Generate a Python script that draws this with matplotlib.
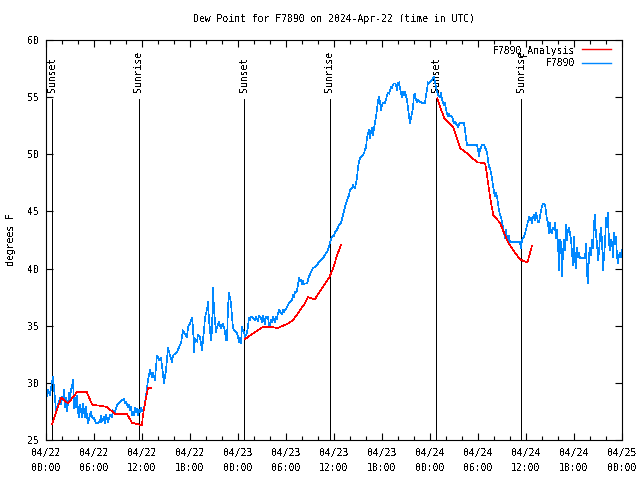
import matplotlib
matplotlib.use("Agg")
import matplotlib.pyplot as plt
from matplotlib.ticker import MultipleLocator

plt.rcParams['font.family'] = ['DejaVu Sans Mono']
plt.rcParams['text.antialiased'] = False

title = "Dew Point for F7890 on 2024-Apr-22 (time in UTC)"
ylabel = "degrees F"

# x tick labels (every 6 hours from 2024-04-22 00:00 UTC)
tick_hours = list(range(0, 73, 6))
tick_labels = ["04/22\n00:00", "04/22\n06:00", "04/22\n12:00", "04/22\n18:00",
               "04/23\n00:00", "04/23\n06:00", "04/23\n12:00", "04/23\n18:00",
               "04/24\n00:00", "04/24\n06:00", "04/24\n12:00", "04/24\n18:00",
               "04/25\n00:00"]

# Sunset / sunrise markers (hours since 04/22 00:00)
sun_events = ["Sunset", "Sunrise", "Sunset", "Sunrise", "Sunset", "Sunrise"]
sun_hours = [0.75, 11.6, 24.75, 35.45, 48.75, 59.4]

# F7890 observations (hour, deg F)
f7890_obs = [
    (0.0, 28.8), (0.125, 28.8), (0.25, 29.4), (0.5, 28.9), (0.75, 30.1), (0.875, 30.5),
    (1.0, 29.6), (1.25, 27.6), (1.5, 28.1), (1.75, 28.7), (1.875, 28.1), (2.0, 28.8),
    (2.125, 28.5), (2.25, 29.4), (2.375, 27.9), (2.5, 28.7), (2.625, 27.5), (2.75, 28.2),
    (2.875, 29.1), (3.0, 28.5), (3.125, 29.4), (3.25, 29.6), (3.375, 30.3), (3.5, 27.8),
    (3.625, 28.7), (3.75, 27.9), (3.875, 28.9), (4.0, 27.5), (4.125, 27.0), (4.25, 28.1),
    (4.5, 27.0), (4.625, 28.2), (4.75, 27.5), (4.875, 27.0), (5.0, 27.9), (5.125, 27.0),
    (5.25, 26.5), (5.5, 27.2), (5.625, 27.5), (5.75, 27.0), (6.0, 26.9), (6.25, 26.5),
    (6.5, 26.5), (6.75, 26.6), (6.875, 27.1), (7.0, 26.6), (7.25, 27.0), (7.375, 26.5),
    (7.5, 27.2), (7.75, 26.6), (8.0, 27.2), (8.25, 27.0), (8.375, 27.6), (8.625, 27.4),
    (8.75, 27.8), (9.0, 28.2), (9.25, 28.3), (9.5, 28.5), (9.75, 28.6), (9.875, 28.2),
    (10.0, 28.3), (10.25, 27.9), (10.375, 28.1), (10.5, 27.6), (10.625, 27.9), (10.75, 27.2),
    (10.875, 27.5), (11.0, 27.2), (11.125, 27.8), (11.25, 27.4), (11.375, 27.7), (11.5, 27.2),
    (11.625, 27.6), (11.75, 27.4), (11.875, 27.8), (12.0, 27.5), (12.125, 27.6), (12.25, 27.8),
    (12.375, 28.2), (12.625, 29.6), (12.75, 30.25), (13.0, 31.1), (13.25, 30.5), (13.375, 30.9),
    (13.625, 30.25), (13.75, 31.4), (13.875, 32.4), (14.125, 32.0), (14.375, 32.2), (14.625, 30.7),
    (14.75, 30.0), (15.0, 31.1), (15.25, 33.1), (15.5, 32.4), (15.75, 31.8), (15.875, 32.4),
    (16.375, 32.7), (16.625, 33.1), (16.875, 33.5), (17.0, 34.0), (17.125, 34.6), (17.25, 34.4),
    (17.625, 34.0), (17.75, 34.9), (18.0, 35.2), (18.25, 35.7), (18.375, 34.9), (18.5, 32.7),
    (18.625, 33.9), (18.875, 33.6), (19.0, 34.2), (19.25, 34.0), (19.5, 32.9), (19.75, 34.6),
    (19.875, 35.7), (20.125, 36.4), (20.25, 37.1), (20.375, 35.5), (20.625, 33.75), (20.75, 34.6),
    (20.875, 38.3), (21.0, 36.4), (21.25, 34.4), (21.375, 34.9), (21.625, 35.3), (21.875, 34.8),
    (22.125, 35.2), (22.375, 34.5), (22.5, 33.75), (22.625, 33.75), (22.75, 36.6), (22.875, 37.9),
    (23.125, 37.0), (23.25, 35.8), (23.375, 34.8), (23.625, 34.5), (23.875, 34.4), (24.0, 34.0),
    (24.125, 33.6), (24.25, 33.9), (24.375, 33.5), (24.5, 34.9), (24.625, 34.6), (24.75, 34.45),
    (24.875, 33.9), (25.0, 34.2), (25.125, 34.4), (25.25, 34.9), (25.375, 35.7), (25.5, 35.5),
    (25.625, 35.8), (25.875, 35.7), (26.125, 35.5), (26.25, 35.8), (26.5, 35.4), (26.625, 35.9),
    (26.875, 35.7), (27.0, 35.3), (27.125, 35.9), (27.25, 35.5), (27.375, 35.15), (27.5, 35.8),
    (27.75, 35.8), (27.875, 35.1), (28.0, 34.9), (28.125, 35.5), (28.25, 35.3), (28.375, 35.8),
    (28.5, 35.5), (28.625, 35.3), (28.75, 35.8), (28.875, 35.6), (29.0, 36.1), (29.125, 36.4),
    (29.375, 36.1), (29.5, 36.0), (29.625, 36.4), (29.75, 36.2), (30.0, 36.5), (30.125, 36.6),
    (30.375, 37.0), (30.5, 37.1), (30.75, 37.25), (30.875, 37.7), (31.0, 37.5), (31.125, 37.95),
    (31.25, 37.9), (31.375, 38.1), (31.5, 38.6), (31.625, 39.2), (31.75, 38.9), (31.875, 39.0),
    (32.0, 38.65), (32.125, 38.9), (32.25, 38.65), (32.375, 38.7), (32.625, 38.7), (32.875, 39.3),
    (33.125, 39.7), (33.375, 40.05), (33.625, 40.15), (33.875, 40.3), (34.125, 40.6), (34.375, 40.75),
    (34.625, 40.9), (34.875, 41.2), (35.125, 41.45), (35.375, 41.9), (35.5, 42.3), (35.625, 42.5),
    (35.75, 42.8), (35.875, 42.9), (36.0, 42.85), (36.125, 43.2), (36.375, 43.4), (36.625, 43.8),
    (36.875, 44.0), (37.125, 44.7), (37.375, 45.4), (37.625, 46.0), (37.875, 46.4), (38.0, 46.9),
    (38.25, 47.05), (38.375, 47.3), (38.625, 47.05), (38.75, 47.5), (38.875, 47.9), (39.0, 48.9),
    (39.25, 49.7), (39.5, 49.85), (39.75, 50.1), (39.875, 50.4), (40.0, 50.6), (40.125, 51.5),
    (40.375, 52.1), (40.5, 51.4), (40.625, 51.95), (40.75, 52.3), (40.875, 51.7), (41.0, 52.3),
    (41.25, 53.3), (41.375, 53.9), (41.5, 54.75), (41.625, 55.0), (41.75, 54.6), (41.875, 53.9),
    (42.0, 54.3), (42.125, 54.5), (42.375, 54.5), (42.5, 54.75), (42.625, 55.2), (42.75, 55.4),
    (42.875, 55.3), (43.0, 55.6), (43.125, 55.9), (43.25, 55.8), (43.375, 56.1), (43.5, 56.2),
    (43.625, 56.2), (43.75, 56.1), (43.875, 55.6), (44.0, 56.2), (44.125, 56.3), (44.25, 55.8),
    (44.375, 55.4), (44.5, 55.0), (44.625, 55.45), (44.75, 55.2), (44.875, 55.45), (45.0, 55.1),
    (45.125, 54.75), (45.25, 54.05), (45.375, 53.3), (45.5, 52.7), (45.625, 53.2), (45.75, 53.6),
    (45.875, 54.1), (46.0, 55.2), (46.125, 55.3), (46.25, 54.75), (46.375, 54.6), (46.5, 54.75),
    (46.75, 54.6), (47.0, 54.5), (47.375, 54.5), (47.5, 55.2), (47.625, 55.6), (47.75, 56.3),
    (47.875, 56.2), (48.0, 56.3), (48.25, 56.5), (48.375, 56.7), (48.5, 56.8), (48.625, 56.3),
    (48.75, 55.9), (48.875, 55.45), (49.0, 55.2), (49.25, 55.0), (49.375, 55.4), (49.5, 54.75),
    (49.625, 54.5), (49.75, 54.3), (49.875, 54.5), (50.0, 53.9), (50.125, 53.6), (50.25, 53.3),
    (50.375, 53.5), (50.5, 53.35), (50.625, 53.4), (50.75, 53.3), (50.875, 53.0), (51.0, 52.7),
    (51.125, 52.8), (51.25, 52.7), (51.5, 52.4), (51.625, 52.6), (51.75, 52.75), (52.25, 52.75),
    (52.375, 52.1), (52.5, 51.5), (52.625, 50.8), (53.875, 50.8), (54.0, 50.4), (54.125, 49.8),
    (54.25, 50.4), (54.375, 50.6), (54.5, 50.8), (54.75, 50.8), (54.875, 50.6), (55.125, 50.2),
    (55.25, 49.5), (55.375, 48.9), (55.5, 48.8), (55.625, 48.4), (55.75, 47.9), (55.875, 47.3),
    (56.0, 46.7), (56.125, 46.3), (56.25, 46.6), (56.375, 46.3), (56.5, 45.7), (56.625, 45.1),
    (56.75, 44.7), (56.875, 44.5), (57.0, 44.1), (57.125, 43.6), (57.25, 43.1), (57.375, 42.7),
    (57.5, 43.4), (57.625, 42.7), (57.75, 42.3), (57.875, 42.9), (58.0, 42.3), (59.25, 42.3),
    (59.375, 41.8), (59.5, 42.5), (59.75, 42.8), (60.0, 43.4), (60.125, 43.8), (60.25, 44.1),
    (60.375, 44.5), (60.5, 44.25), (60.625, 44.4), (60.75, 44.0), (60.875, 44.5), (61.0, 44.7),
    (61.125, 44.25), (61.25, 44.9), (61.375, 44.5), (61.5, 44.1), (61.625, 44.1), (61.75, 44.5),
    (61.875, 45.1), (62.0, 45.4), (62.125, 45.65), (62.25, 45.7), (62.375, 45.6), (62.5, 44.9),
    (62.625, 44.25), (62.75, 44.0), (62.875, 43.1), (63.0, 44.0), (63.125, 43.2), (63.25, 43.1),
    (63.375, 43.55), (63.5, 43.4), (63.625, 44.0), (63.75, 42.7), (63.875, 43.4), (64.0, 42.2),
    (64.125, 39.9), (64.25, 42.5), (64.375, 42.3), (64.5, 39.3), (64.625, 41.45), (64.75, 42.5),
    (64.875, 41.6), (65.0, 43.8), (65.125, 42.5), (65.25, 43.4), (65.375, 43.55), (65.5, 43.1),
    (65.625, 42.5), (65.75, 41.4), (65.875, 40.3), (66.0, 42.8), (66.125, 40.75), (66.25, 40.05),
    (66.375, 41.8), (66.5, 41.0), (66.625, 41.4), (66.75, 40.9), (67.375, 40.9), (67.5, 42.2),
    (67.625, 39.6), (67.75, 38.7), (67.875, 41.2), (68.0, 41.8), (68.125, 41.2), (68.25, 42.5),
    (68.375, 41.8), (68.5, 44.0), (68.625, 44.7), (68.75, 42.9), (68.875, 42.2), (69.0, 40.75),
    (69.125, 41.4), (69.25, 42.8), (69.375, 43.6), (69.5, 42.5), (69.625, 39.9), (69.75, 41.0),
    (69.875, 42.2), (70.0, 44.4), (70.125, 43.6), (70.25, 44.9), (70.375, 42.2), (70.5, 41.6),
    (70.625, 42.5), (70.75, 42.3), (70.875, 41.0), (71.0, 43.1), (71.125, 42.1), (71.25, 42.8),
    (71.375, 41.0), (71.5, 40.5), (71.625, 41.2), (71.75, 41.4), (71.875, 41.0), (72.0, 41.6),
]

# F7890_Analysis, three separate runs (hour, deg F)
analysis_run1 = [(0.75, 26.4), (1.9, 28.7), (2.75, 28.2), (3.9, 29.2), (5.1, 29.2), (5.75, 28.1),
                 (7.6, 27.9), (8.6, 27.3), (10.1, 27.3), (10.75, 26.5), (12.0, 26.3), (12.1, 27.1),
                 (12.5, 28.7), (12.75, 29.55), (13.1, 29.55)]
analysis_run2 = [(24.9, 33.85), (27.1, 34.9), (28.0, 34.9), (29.0, 34.8), (30.25, 35.2), (30.9, 35.5),
                 (31.5, 36.1), (32.4, 37.0), (32.75, 37.5), (33.6, 37.3), (34.6, 38.4), (35.4, 39.2),
                 (35.9, 40.05), (36.4, 41.2), (36.9, 42.1)]
analysis_run3 = [(48.9, 54.9), (49.75, 53.2), (50.9, 52.4), (51.75, 50.55), (52.6, 50.1), (53.9, 49.3),
                 (54.9, 49.2), (55.1, 48.3), (55.5, 46.3), (55.9, 44.7), (56.75, 44.0), (57.1, 43.4),
                 (57.75, 42.3), (58.6, 41.4), (59.25, 40.8), (59.9, 40.6), (60.2, 40.6), (60.75, 42.0)]

BLUE = "#0088ff"
RED = "#ff0000"
LW = 0.72
DLW = 0.45

fig = plt.figure(figsize=(6.4, 4.8), dpi=100)
ax = fig.add_axes([46 / 640, 40 / 480, 576 / 640, 400 / 480])
ax.set_xlim(0, 72)
ax.set_ylim(25, 60)

# sunrise / sunset lines
for name, h in zip(sun_events, sun_hours):
    ax.plot([h, h], [25, 54.8], color="black", lw=LW, antialiased=False, zorder=1)
    ax.text(h, 55.45, name, rotation=90, ha="center", va="bottom", fontsize=7, zorder=1)

first = True
for run in (analysis_run1, analysis_run2, analysis_run3):
    hx, hv = zip(*run)
    ax.plot(hx, hv, color=RED, lw=DLW, antialiased=False, zorder=3,
            label="F7890_Analysis" if first else None)
    first = False

ox, ov = zip(*f7890_obs)
ax.plot(ox, ov, color=BLUE, lw=DLW, antialiased=False, zorder=2, label="F7890")

ax.set_xticks(tick_hours)
ax.set_xticklabels(tick_labels, fontsize=7, linespacing=1.6)
ax.xaxis.set_minor_locator(MultipleLocator(2))
ax.set_yticks(range(25, 61, 5))
ax.set_yticklabels([str(v) for v in range(25, 61, 5)], fontsize=7)
ax.tick_params(which="both", direction="in", top=True, right=True, width=0.8)
ax.tick_params(which="major", length=5)
ax.tick_params(which="minor", length=3)
ax.tick_params(axis="x", which="major", pad=6)
ax.tick_params(axis="y", which="major", pad=5)
for s in ax.spines.values():
    s.set_linewidth(0.8)

leg = ax.legend(loc="upper right", bbox_to_anchor=(1.0 - 4 / 576, 1.0 + 2 / 400), frameon=False,
                fontsize=7, markerfirst=False, handlelength=3.0, handletextpad=0.7,
                labelspacing=0.25, borderaxespad=0.3)
for line in leg.get_lines():
    line.set_linewidth(1.0)
    line.set_antialiased(True)

fig.text(334 / 640, 1 - 19 / 480, title, ha="center", va="center", fontsize=7)
fig.text(11 / 640, 0.5, ylabel, rotation=90, ha="center", va="center", fontsize=7)

fig.savefig("out.png", dpi=100)
